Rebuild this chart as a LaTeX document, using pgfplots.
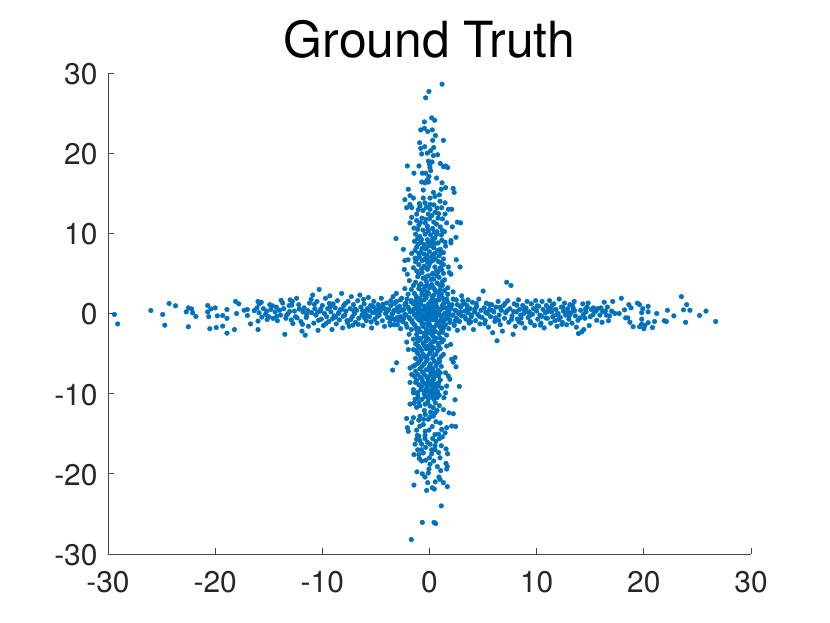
\documentclass[border=0pt]{standalone}
\usepackage{fontspec}
\setmainfont{TeX Gyre Heros}
\usepackage{pgfplots}
\pgfplotsset{compat=1.18}
\definecolor{ml}{RGB}{0,114,189}
\definecolor{ax}{RGB}{38,38,38}
\pgfplotstableread{
x y
-29.4 -0.12
-29.1 -1.3
-26.0 0.37
-24.9 -0.12
-24.7 -1.46
-24.3 1.25
-23.7 0.96
-22.7 0.2
-22.5 0.7
-22.2 0.57
-22.1 0.08
-21.8 -0.38
-22.5 -1.66
-20.7 1.0
-20.7 0.2
-20.6 -0.4
-20.4 0.57
-20.0 0.7
-20.5 -1.9
-19.9 -1.75
-19.8 -0.3
-19.3 -0.25
-19.3 -1.57
-18.9 0.5
-18.9 -0.6
-18.9 -2.45
-18.2 -2.0
-18.1 1.5
-17.8 1.2
-18.0 0.0
-17.3 0.4
-17.0 0.5
-17.0 -0.25
-16.7 -1.3
-16.0 -2.0
-16.0 -0.95
-15.9 0.1
-16.0 1.5
-15.9 1.2
-16.1 0.7
-15.7 1.4
-15.5 0.6
-15.3 -0.1
-15.2 0.3
-15.0 -0.4
-14.9 1.1
-14.8 0.5
-14.6 -0.6
-14.4 0.2
-14.3 0.8
-14.2 -0.9
-14.0 0.4
-13.9 -0.2
-13.7 1.3
-13.6 0.6
-13.4 -0.6
-13.2 0.0
-13.5 -2.6
-13.1 1.0
-13.0 1.7
-12.9 -0.8
-12.8 1.5
-12.6 0.3
-12.5 -0.4
-12.4 1.9
-12.2 1.1
-12.0 -1.0
-11.9 -2.2
-11.8 0.2
-11.7 0.7
-11.6 -2.7
-11.5 -0.5
-11.3 -1.6
-11.2 1.3
-11.0 0.1
-10.9 2.3
-10.8 -1.2
-10.7 0.6
-10.6 -0.2
-10.5 1.5
-10.4 -2.1
-10.3 3.0
-10.2 0.3
-10.1 -0.7
-10.0 1.0
-9.9 -1.5
-9.8 0.0
-9.7 1.9
-9.6 -0.4
-9.5 0.6
-9.4 -1.0
-9.3 2.2
-9.2 0.2
-9.1 -2.0
-9.0 1.2
-8.9 -0.3
-8.8 0.7
-8.7 -1.3
-8.6 1.6
-8.5 0.0
-8.4 -0.8
-8.3 0.5
-8.2 2.5
-8.1 -1.8
-8.0 1.0
-7.9 -0.2
-7.8 0.3
-7.7 -0.9
-7.6 1.5
-7.5 -1.6
-7.4 0.6
-7.3 2.1
-7.2 -0.4
-7.1 1.1
-7.0 0.0
-6.9 -1.1
-6.8 0.4
-6.7 1.6
-6.6 -0.6
-6.5 2.3
-6.4 0.8
-6.3 -0.2
-6.2 -1.5
-6.1 1.2
-6.0 0.2
-5.9 -0.9
-5.8 0.6
-5.7 2.0
-5.6 -0.4
-5.5 1.0
-5.4 -1.8
-5.3 0.1
-5.2 1.5
-5.1 -0.7
-5.0 0.5
-4.9 -1.2
-4.8 1.1
-4.7 -0.2
-4.6 0.3
-4.5 1.9
-4.4 -0.9
-4.3 0.7
-4.2 -1.6
-4.1 0.0
-4.0 1.3
-3.9 -0.5
-3.8 0.5
-3.7 -1.1
-3.6 1.0
-3.5 -0.1
-3.4 2.1
-3.3 0.4
-3.2 -0.8
-3.1 1.5
-3.0 -1.4
-2.9 0.2
-2.8 0.9
-2.7 -0.4
-2.6 1.9
-2.5 -1.0
-2.4 0.5
-2.3 -0.1
-2.2 1.3
-2.1 -1.7
-2.0 0.8
-1.9 -0.5
-1.8 0.2
-1.7 1.6
-1.6 -1.1
-1.5 0.5
-1.4 -0.2
-1.3 1.1
-1.2 -2.0
-1.1 0.0
-1.0 0.7
-0.9 -0.7
-0.8 1.5
-0.7 0.3
-0.6 -1.3
-0.5 0.9
-0.4 -0.3
-0.3 2.0
-0.2 0.1
-0.1 -1.6
0.0 0.6
0.1 -0.5
0.2 1.3
0.3 -0.1
0.4 -2.2
0.5 0.8
0.6 -0.8
0.7 0.2
0.8 1.7
0.9 -1.3
1.0 0.5
1.1 -0.3
1.2 1.0
1.3 -1.8
1.4 0.0
1.5 0.7
1.6 -0.6
1.7 1.4
1.8 0.2
1.9 -1.1
2.0 0.6
2.1 -0.2
2.2 1.8
2.3 -1.5
2.4 0.4
2.5 -0.6
2.6 1.1
2.7 0.0
2.8 -1.0
2.9 0.8
3.0 -0.3
3.1 1.6
3.2 -1.8
3.3 0.3
3.4 -0.7
3.5 1.0
3.6 0.1
3.7 -1.2
3.8 0.6
3.9 -0.4
4.0 1.4
4.1 -2.0
4.2 0.2
4.3 -0.9
4.4 0.9
4.5 -0.1
4.6 1.8
4.7 -1.3
4.8 0.4
4.9 -0.5
5.0 2.8
5.1 0.7
5.2 -0.9
5.3 1.3
5.4 0.0
5.5 -1.7
5.6 0.5
5.7 -0.4
5.8 1.1
5.9 -2.4
6.0 0.2
6.1 -1.0
6.2 0.8
6.3 -3.4
6.4 1.5
6.5 -0.2
6.6 -1.4
6.7 0.4
6.8 -2.2
6.9 1.0
7.0 -0.6
7.1 0.1
7.2 3.9
7.3 1.6
7.4 -1.1
7.5 0.6
7.6 3.5
7.7 -0.3
7.8 -2.6
7.9 1.2
8.0 -1.6
8.1 0.2
8.2 -0.7
8.3 1.7
8.4 0.5
8.5 -0.2
8.6 -1.2
8.7 1.0
8.8 0.0
8.9 -1.8
9.0 0.7
9.1 1.5
9.2 -0.5
9.3 0.2
9.4 -1.0
9.5 1.2
9.6 -0.1
9.7 0.6
9.8 -1.5
9.9 1.6
10.0 0.3
10.1 -0.7
10.2 0.9
10.3 -0.2
10.4 -1.2
10.5 1.5
10.6 0.5
10.7 -1.8
10.8 0.1
10.9 1.0
11.0 -0.6
11.1 0.7
11.2 1.6
11.3 -1.2
11.4 0.2
11.5 -0.4
11.6 1.2
11.7 -0.9
11.8 0.5
11.9 -1.6
12.0 0.0
12.1 1.8
12.2 -0.5
12.3 0.8
12.4 -1.1
12.5 0.3
12.6 1.3
12.7 -0.2
12.8 -1.4
12.9 0.6
13.0 -0.7
13.1 1.1
13.2 0.1
13.3 -1.2
13.4 0.7
13.5 1.5
13.6 -0.3
13.7 -1.7
13.9 -2.5
14.2 -2.3
14.4 -2.0
14.1 0.4
14.3 1.2
14.5 -0.6
14.6 0.2
14.7 0.8
14.8 1.3
14.9 -1.5
15.0 -0.4
15.1 0.5
15.3 0.7
15.4 0.2
15.6 -0.85
15.7 0.6
15.9 -0.2
16.1 -1.1
16.0 0.7
16.3 1.4
16.4 0.3
16.5 -0.2
16.7 -0.9
16.6 0.8
16.8 -0.3
17.0 0.3
17.1 1.5
17.3 0.0
17.7 0.0
17.9 1.9
18.2 0.45
18.3 -0.55
18.5 -0.55
18.6 1.1
18.7 -1.1
18.8 0.7
19.0 -1.65
19.4 1.3
19.6 1.1
19.6 -1.65
19.8 0.1
19.8 -0.7
19.8 -1.3
19.9 0.6
20.0 -1.9
20.1 -1.5
20.4 0.2
20.4 0.9
20.4 -1.15
20.8 -1.75
21.0 -1.0
21.2 0.0
21.9 -0.9
22.1 -1.0
22.2 0.4
22.8 -0.3
23.5 2.1
23.7 0.45
23.9 -1.1
24.0 1.1
24.3 0.4
25.2 -0.25
25.8 0.3
26.7 -1.0
1.17 28.6
-0.05 27.7
-0.36 26.9
0.2 24.4
0.48 24.1
-0.48 23.9
-0.48 23.1
-0.82 22.9
-0.17 22.7
0.26 22.9
0.55 22.2
1.3 21.6
0.3 21.6
-0.92 21.3
-0.82 20.6
-0.45 20.8
0.39 20.7
0.11 20.3
-0.73 19.9
-0.2 20.0
0.36 19.7
0.76 19.8
-0.1 19.0
0.24 18.9
1.0 18.7
1.5 18.4
1.7 18.2
1.3 18.3
-2.07 18.4
-0.98 18.4
0.0 18.6
0.04 18.2
0.11 17.8
-1.45 17.5
-0.67 17.5
-0.36 17.5
-0.05 17.1
-0.17 16.7
0.66 16.9
-0.73 16.4
-0.42 16.3
-0.1 16.4
1.17 16.3
-0.27 16.5
1.5 15.7
2.2 15.6
2.3 15.1
1.1 15.5
0.36 15.1
-0.58 15.4
-1.98 15.5
-1.82 14.7
-2.3 14.2
-1.5 14.4
-0.58 14.4
0.05 14.4
0.51 14.6
0.92 14.8
-0.42 13.8
0.05 13.6
0.98 14.0
1.45 13.8
1.13 13.2
1.76 13.0
2.07 13.0
-1.82 13.6
-1.66 13.2
-2.13 13.2
-0.89 13.4
0.05 13.0
-1.2 12.4
-1.66 12.0
-0.11 12.4
0.51 12.6
1.45 12.4
1.2 11.8
2.6 11.4
2.9 11.3
1.6 11.3
2.13 10.8
-1.82 11.3
-3.13 9.35
-2.44 8.0
2.47 9.5
2.0 9.1
2.0 8.8
1.45 8.9
1.5 8.4
2.5 6.7
2.85 5.8
-2.35 5.5
-2.3 6.6
-1.66 7.5
-2.0 6.7
-1.35 6.9
-1.5 5.7
-2.07 4.9
-1.88 4.1
-1.5 3.5
1.76 5.8
2.0 4.9
1.85 5.1
1.3 6.1
-1.2 11.6
-1.0 11.0
-0.7 11.9
-0.4 11.3
0.0 11.8
0.4 11.4
0.8 11.9
-1.1 10.5
-0.6 10.4
-0.2 10.9
0.3 10.6
0.7 10.2
1.0 10.8
-1.3 9.9
-0.9 9.6
-0.4 9.9
0.1 9.8
0.5 9.4
1.1 9.8
1.4 10.2
-1.4 9.0
-0.8 8.9
-0.2 9.2
0.2 8.9
0.8 8.8
-1.2 8.3
-0.7 8.1
-0.1 8.4
0.4 8.2
1.0 8.0
1.3 7.6
-1.0 7.5
-0.5 7.4
0.0 7.7
0.5 7.5
0.9 7.2
-1.2 6.8
-0.7 6.6
-0.2 6.9
0.3 6.6
0.8 6.5
1.3 6.8
-1.0 6.1
-0.5 5.9
0.0 6.2
0.5 5.8
1.0 5.7
-1.2 5.3
-0.7 5.1
-0.2 5.5
0.3 5.0
0.8 5.2
1.3 5.0
-1.1 4.6
-0.6 4.4
-0.1 4.7
0.4 4.3
0.9 4.5
1.4 4.2
-1.3 3.9
-0.8 3.7
-0.3 4.0
0.2 3.6
0.7 3.8
1.2 3.5
1.7 3.2
-2.3 3.1
-1.7 3.0
-1.0 3.1
-0.5 3.0
0.0 3.2
0.5 2.9
1.0 3.0
2.2 2.7
-3.1 2.5
-2.0 2.4
-1.4 2.5
-0.7 2.4
-0.1 2.5
0.4 2.3
1.1 2.4
1.7 2.4
3.0 2.2
-3.6 1.6
-2.7 1.7
-2.1 1.8
-1.2 1.8
-0.5 1.7
0.3 1.8
0.9 1.7
1.6 1.8
2.5 1.7
3.6 1.7
-2.3 1.1
-1.5 1.2
-0.8 1.1
-0.1 1.2
0.6 1.2
1.3 1.2
2.1 1.1
3.0 1.0
-2.6 0.4
-1.9 0.5
-1.1 0.4
-0.4 0.5
0.3 0.4
1.0 0.5
1.7 0.4
2.5 0.3
-2.2 -0.2
-1.4 -0.1
-0.7 -0.2
0.0 -0.1
0.7 -0.2
1.4 -0.1
2.2 -0.2
-2.6 -0.8
-1.8 -0.7
-1.0 -0.8
-0.3 -0.7
0.4 -0.8
1.1 -0.7
1.9 -0.8
2.7 -0.9
-3.3 -1.4
-2.2 -1.3
-1.4 -1.4
-0.7 -1.3
0.0 -1.4
0.7 -1.3
1.5 -1.4
2.3 -1.3
-2.7 -1.9
-1.7 -2.0
-1.0 -1.9
-0.3 -2.0
0.4 -1.9
1.1 -2.0
1.8 -1.9
2.6 -2.1
-1.9 -2.6
-1.2 -2.6
-0.5 -2.5
0.2 -2.6
0.9 -2.5
1.6 -2.7
-1.5 -3.2
-0.8 -3.1
-0.1 -3.2
0.6 -3.1
1.3 -3.3
-2.13 -3.57
-1.3 -3.8
-0.6 -3.7
0.1 -3.8
0.8 -3.7
1.6 -4.07
1.97 -3.86
-1.98 -4.5
-1.5 -4.5
-0.9 -4.3
-0.3 -4.4
0.4 -4.3
1.0 -4.4
1.3 -5.1
-1.1 -5.0
-0.6 -5.1
0.0 -5.0
0.6 -5.1
-1.3 -5.6
-0.8 -5.7
-0.2 -5.7
0.3 -5.6
0.9 -5.7
2.38 -5.5
2.07 -5.7
2.22 -6.07
2.47 -6.65
-3.07 -6.15
-3.44 -7.06
-1.82 -6.8
-1.5 -6.56
-1.66 -7.6
-1.82 -8.6
-1.1 -6.2
-0.5 -6.3
0.1 -6.3
0.7 -6.2
1.1 -6.6
-0.9 -6.9
-0.3 -7.0
0.3 -6.9
0.8 -7.1
1.5 -7.4
1.76 -7.8
-1.1 -7.6
-0.5 -7.6
0.1 -7.7
0.7 -7.7
-1.2 -8.3
-0.7 -8.2
-0.1 -8.3
0.4 -8.2
1.0 -8.3
1.9 -8.2
-1.0 -8.9
-0.4 -8.8
0.1 -8.9
0.6 -8.8
1.13 -9.3
1.6 -9.05
2.78 -9.1
-1.5 -9.5
-1.5 -9.9
-0.8 -9.5
-0.3 -9.4
0.2 -9.5
0.6 -9.4
-1.1 -10.1
-0.5 -10.0
0.0 -10.1
0.5 -10.0
0.9 -10.2
1.5 -9.9
1.35 -10.5
-1.35 -10.7
-0.7 -10.7
-0.1 -10.6
0.4 -10.7
2.38 -10.76
-1.82 -11.3
-1.0 -11.1
-0.4 -11.3
0.92 -11.5
0.36 -11.75
0.05 -11.55
1.3 -12.0
-0.48 -12.1
2.22 -12.5
1.82 -12.4
-0.89 -12.8
-2.13 -13.1
-1.5 -13.0
-1.66 -13.6
-2.07 -14.25
-1.98 -14.7
-1.2 -14.55
-1.14 -15.2
-0.42 -15.2
-0.05 -14.55
0.51 -15.1
1.13 -14.46
1.6 -14.25
2.07 -14.04
2.44 -14.1
1.45 -14.9
-0.58 -13.85
0.36 -12.8
0.51 -12.4
-0.11 -13.2
0.05 -12.9
-1.7 -28.2
-0.67 -26.06
0.42 -26.06
0.57 -26.2
1.1 -24.0
-1.45 -21.4
-0.27 -22.07
0.26 -21.74
0.45 -21.9
-0.17 -21.1
0.54 -21.0
1.29 -21.1
1.66 -21.6
0.88 -20.4
0.98 -20.7
-1.17 -19.75
-0.67 -20.0
-0.42 -20.4
-0.11 -19.9
-0.05 -19.4
0.73 -19.1
1.04 -19.6
1.6 -19.4
1.66 -19.1
1.54 -18.7
0.39 -18.4
0.05 -18.8
-0.36 -18.3
-0.73 -18.4
-0.95 -18.1
0.98 -18.0
-1.45 -17.6
-0.58 -17.4
-1.0 -17.6
0.2 -17.5
1.69 -17.5
1.54 -16.9
0.51 -17.0
0.2 -17.0
-1.1 -17.0
-1.35 -16.3
-0.73 -16.3
0.05 -16.3
0.51 -16.5
-1.2 -15.7
-0.42 -15.6
0.29 -15.6
0.92 -15.6
1.2 -15.4
-1.0 -15.3
}\pts
\pgfplotstableread{
x y
-0.9 1.2
-0.5 0.9
-0.1 0.7
0.3 0.9
0.7 0.8
-1.2 0.7
-0.8 0.4
-0.3 0.2
0.1 0.4
0.5 0.1
0.9 0.3
1.3 0.7
-1.0 -0.1
-0.6 -0.4
-0.2 -0.2
0.2 -0.4
0.6 -0.5
1.0 -0.2
-1.2 -0.5
-0.8 -0.9
-0.4 -0.7
0.0 -0.9
0.4 -0.6
0.8 -1.0
1.2 -1.1
-0.6 -1.6
-0.2 -1.3
0.2 -1.7
0.6 -1.5
1.0 -1.7
-0.9 1.9
-0.4 2.1
0.1 1.5
0.5 1.6
0.9 2.1
-1.3 1.5
1.4 1.5
-3.0 0.7
-3.4 0.1
-3.9 0.4
-2.4 -0.6
-3.0 -0.5
-3.7 -0.6
2.0 0.9
2.9 0.2
3.5 0.5
3.9 -0.2
2.4 -0.9
3.3 -0.4
-0.2 3.5
0.3 4.9
-0.6 5.7
-0.2 6.4
0.2 7.1
-0.5 8.6
0.3 9.3
-0.1 10.3
0.1 -2.2
-0.3 -2.9
0.3 -3.5
-0.2 -4.1
0.2 -4.7
-0.4 -5.4
0.1 -6.8
0.3 -7.4
-0.2 -8.0
0.4 -9.1
-0.1 -9.7
-14.65 0.95
-13.35 -0.25
-15.15 -0.75
-12.15 0.55
-13.85 1.65
-11.45 -0.15
-10.35 -0.85
-12.75 -1.25
-9.25 0.85
-11.05 1.75
-8.75 -0.45
-10.75 1.15
-7.85 1.25
-9.65 -1.25
-6.95 0.55
-8.45 0.15
-7.35 -0.75
-5.85 -0.25
-6.65 -1.35
-5.25 0.85
-4.85 -0.35
-6.15 1.75
-4.35 1.15
-7.65 -1.15
-5.55 0.35
-3.65 -1.45
-3.25 1.25
-2.85 -0.85
-4.15 0.55
-13.05 0.25
-12.35 -0.55
-11.35 0.35
-10.15 0.55
-9.05 -0.65
-8.05 -0.35
-7.05 0.25
-6.05 -0.55
-5.05 0.15
-14.25 -0.35
-15.65 -0.45
-16.35 0.35
-12.85 1.05
-11.85 -1.35
-10.45 0.15
-9.35 1.25
-8.15 0.55
-7.15 -1.45
-6.25 0.35
-5.45 -1.05
-4.65 0.75
-3.95 0.25
-3.45 -0.65
3.25 1.25
3.65 -0.85
4.25 0.55
4.65 -0.35
5.25 0.15
5.55 1.15
6.15 -0.55
6.55 0.75
7.25 0.35
7.65 -0.75
8.15 1.05
8.55 -0.55
9.05 0.25
9.45 -1.15
10.05 0.95
10.45 -0.35
11.05 0.25
11.45 1.05
12.05 -0.75
12.45 0.75
13.05 -0.25
13.55 0.35
14.05 -0.55
14.55 0.55
15.25 -0.15
3.85 -1.05
4.35 1.25
5.15 -1.25
5.85 0.35
6.45 -0.85
7.05 1.25
7.85 0.25
8.35 -1.05
8.85 0.45
9.35 -0.25
9.85 0.55
10.35 -1.45
10.85 -0.55
11.35 0.65
11.85 -0.15
12.35 -1.35
12.85 0.15
13.35 1.05
13.85 -0.85
14.35 -0.15
15.55 0.35
16.15 0.25
-0.95 13.7
-0.3 13.25
0.4 13.55
0.7 13.15
-0.6 12.85
-1.05 12.95
0.2 12.2
0.85 12.45
-0.35 11.75
0.65 11.15
-0.85 11.35
-1.45 10.65
-0.15 10.45
0.45 10.15
1.2 10.35
-0.75 9.25
-1.1 9.35
0.65 9.85
-0.1 8.85
0.55 8.75
1.15 9.15
-1.05 8.65
-0.35 8.05
0.2 8.45
0.75 7.85
-1.35 7.85
-0.8 7.65
-0.25 7.25
0.35 7.35
1.1 7.55
-0.95 7.05
-0.45 6.75
0.1 6.45
0.55 6.85
1.05 6.35
-1.3 6.45
-0.75 5.55
-0.1 5.85
0.65 5.35
1.15 5.45
-1.0 4.95
-0.35 4.55
0.15 4.25
0.7 4.75
1.2 3.95
-0.95 3.45
-0.45 3.35
0.35 3.25
0.95 3.55
-0.75 2.85
-0.2 2.65
0.75 2.65
1.4 2.85
-1.25 2.15
-0.55 2.35
0.25 2.1
1.2 1.95
-1.7 1.45
1.85 0.95
-1.6 0.25
1.75 -0.25
-1.65 -0.85
1.45 -0.75
-1.25 -1.75
1.35 -1.65
-0.85 -2.3
-0.15 -2.4
0.55 -2.25
1.25 -2.35
-1.15 -3.0
-0.45 -2.85
0.35 -2.85
1.0 -3.05
-1.05 -3.45
-0.35 -3.45
0.45 -3.45
1.15 -3.55
-1.05 -4.1
-0.45 -4.05
0.25 -4.15
0.85 -4.05
-1.25 -4.65
-0.75 -4.6
0.05 -4.55
0.75 -4.65
-0.85 -5.35
-0.25 -5.35
0.35 -5.3
1.1 -5.35
-0.95 -6.0
-0.3 -5.95
0.45 -5.95
0.95 -6.0
-1.35 -6.45
-0.7 -6.6
0.0 -6.6
0.6 -6.55
-1.3 -7.2
-0.65 -7.3
0.05 -7.2
0.55 -7.35
1.0 -7.4
-1.4 -7.85
-0.85 -7.95
-0.25 -7.9
0.35 -7.95
0.85 -7.8
-1.3 -8.6
-0.65 -8.55
-0.15 -8.6
0.25 -8.55
0.85 -8.65
-0.75 -9.15
-0.2 -9.15
0.35 -9.25
0.8 -9.0
-1.1 -9.85
-0.45 -9.7
0.2 -9.8
0.75 -9.75
-1.1 -10.5
-0.4 -10.35
0.3 -10.35
0.7 -10.5
-0.9 -11.5
-0.15 -11.05
0.55 -11.15
-1.45 -11.2
-1.2 -11.7
0.7 -12.1
0.1 -12.3
-0.4 -12.6
-1.0 -13.3
-0.55 -13.2
0.6 -13.5
-0.9 -14.05
1.0 -13.65
0.25 -14.1
-0.4 -14.7
0.85 -15.05
-0.2 -16.05
-0.9 -15.85
0.6 -15.95
1.1 -16.5
-0.35 -16.7
-0.75 -17.0
0.85 -17.35
0.0 -18.0
}\ptsb
\begin{document}
\begin{tikzpicture}[x=1bp,y=1bp]
\useasboundingbox (0,0) rectangle (830,623);
\begin{axis}[
  at={(108bp,69bp)}, anchor=south west,
  scale only axis, width=643bp, height=481bp,
  xmin=-30, xmax=30, ymin=-30, ymax=30,
  axis lines=left,
  axis line style={-, ax!85!white, line width=0.75pt},
  xtick={-30,-20,-10,0,10,20,30},
  ytick={-30,-20,-10,0,10,20,30},
  xticklabels={-30,-20,-10,0,10,20,30},
  yticklabels={-30,-20,-10,0,10,20,30},
  tick align=inside,
  major tick length=6.4bp,
  tick style={ax!85!white, line width=0.75pt},
  tick label style={font=\fontsize{30}{32}\selectfont, text=ax},
  xticklabel style={yshift=-14bp},
  yticklabel style={xshift=-7bp, yshift=-1bp},
  title={Ground Truth},
  title style={font=\fontsize{50}{52}\selectfont, at={(0.5,1)}, anchor=center, yshift=28bp, text=black},
  clip=false,
]
\addplot[only marks, mark=*, mark size=2.35pt, color=ml, mark options={fill=ml, draw=none}] table[x=x,y=y] {\pts};
\addplot[only marks, mark=*, mark size=2.35pt, color=ml, mark options={fill=ml, draw=none}] table[x=x,y=y] {\ptsb};
\end{axis}
\end{tikzpicture}
\end{document}
